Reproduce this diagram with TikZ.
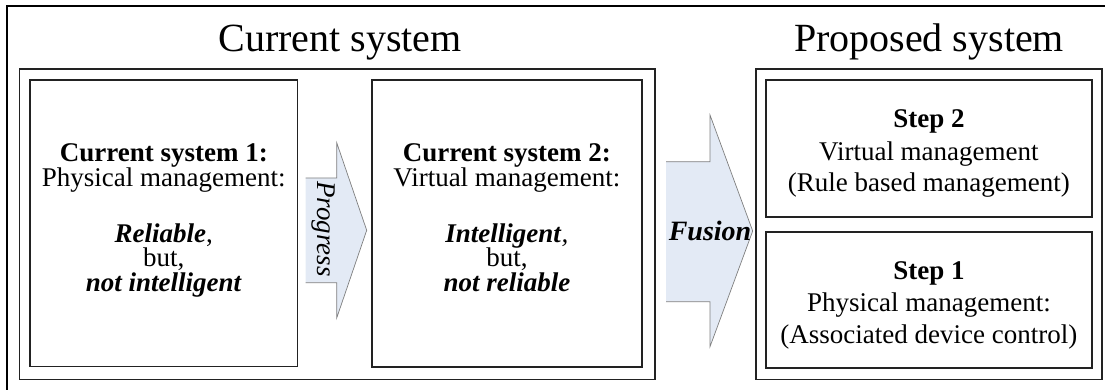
\documentclass[tikz,border=0pt]{standalone}
\usepackage{fontspec}
\setmainfont{Liberation Serif}
\definecolor{arrowfill}{HTML}{E3EAF5}
\definecolor{arrowline}{HTML}{7F7F7F}
\definecolor{boxline}{HTML}{222222}
\newcommand{\bodyfont}{\fontsize{27}{24.5}\selectfont}
\newcommand{\stepfont}{\fontsize{27}{32}\selectfont}
\begin{document}
\begin{tikzpicture}[x=1pt,y=-1pt,
  frame/.style={draw=black,line width=2pt},
  group/.style={draw=boxline,line width=1.6pt,inner sep=0pt,outer sep=0pt,anchor=north west},
  card/.style={draw=boxline,line width=1.6pt,inner sep=0pt,outer sep=0pt,anchor=north west},
  cardtext/.style={align=center,inner sep=0pt,anchor=base},
  flow/.style={fill=arrowfill},
  flowedge/.style={draw=arrowline,line width=0.7pt,line join=miter},
  heading/.style={font=\fontsize{40}{44}\selectfont,inner sep=0pt,anchor=base}
]
\useasboundingbox (0,0) rectangle (1105,390);
\clip (0,0) rectangle (1105,390);

% outer frame (runs off the right and bottom edges)
\draw[frame] (6.5,6) rectangle (1115,400);

% group headings
\node[heading] (curtitle) at (340,52) {Current system};
\node[heading] (proptitle) at (929,52) {Proposed system};

% group frames
\node[group,minimum width=635.7pt,minimum height=310pt] (curgroup) at (19.3,69.3) {};
\node[group,minimum width=345.7pt,minimum height=310pt] (propgroup) at (756,69.3) {};

% current systems
\node[card,minimum width=267.5pt,minimum height=286.5pt] (cs1) at (30,80) {};
\node[card,minimum width=270.3pt,minimum height=286.7pt] (cs2) at (371.7,80) {};

% proposed steps
\node[card,minimum width=325.7pt,minimum height=136.7pt] (step2) at (766,80) {};
\node[card,minimum width=325.7pt,minimum height=136pt] (step1) at (766,231.7) {};

% texts of the current systems (anchored at the baseline of the last line)
\node[cardtext,font=\bodyfont] (cs1text) at (163.8,291)
  {\textbf{Current system 1:}\\ Physical management:\\[29.5pt]
   \textbf{\textit{Reliable}},\\ but,\\ \textbf{\textit{not intelligent}}};
\node[cardtext,font=\bodyfont] (cs2text) at (506.9,291)
  {\textbf{Current system 2:}\\ Virtual management:\\[29.5pt]
   \textbf{\textit{Intelligent}}\textit{,}\\ but,\\ \textbf{\textit{not reliable}}};

% texts of the steps
\node[cardtext,font=\stepfont] (step2text) at (928.9,192)
  {\textbf{Step 2}\\ Virtual management\\ (Rule based management)};
\node[cardtext,font=\stepfont] (step1text) at (928.9,343)
  {\textbf{Step 1}\\ Physical management:\\ (Associated device control)};

% block arrow: Progress
\fill[flow] (305.7,178) -- (336.7,178) -- (336.7,142.7) -- (366.7,230.3)
  -- (336.7,318) -- (336.7,282.7) -- (305.7,282.7) -- cycle;
\draw[flowedge] (305.7,282.7) -- (336.7,282.7) -- (336.7,318) -- (366.7,230.3)
  -- (336.7,142.7) -- (336.7,178) -- (305.7,178);
\node[font=\fontsize{27}{27}\selectfont\itshape,rotate=-90,inner sep=0pt] (progress) at (323,229) {Progress};

% block arrow: Fusion
\fill[flow] (666,161.7) -- (710,161.7) -- (710,115) -- (752.7,231)
  -- (710,346.7) -- (710,301.7) -- (666,301.7) -- cycle;
\draw[flowedge] (666,301.7) -- (710,301.7) -- (710,346.7) -- (752.7,231)
  -- (710,115) -- (710,161.7) -- (666,161.7);
\node[font=\fontsize{28}{28}\selectfont\bfseries\itshape,inner sep=0pt,anchor=base] (fusion) at (710,240) {Fusion};
\end{tikzpicture}
\end{document}
